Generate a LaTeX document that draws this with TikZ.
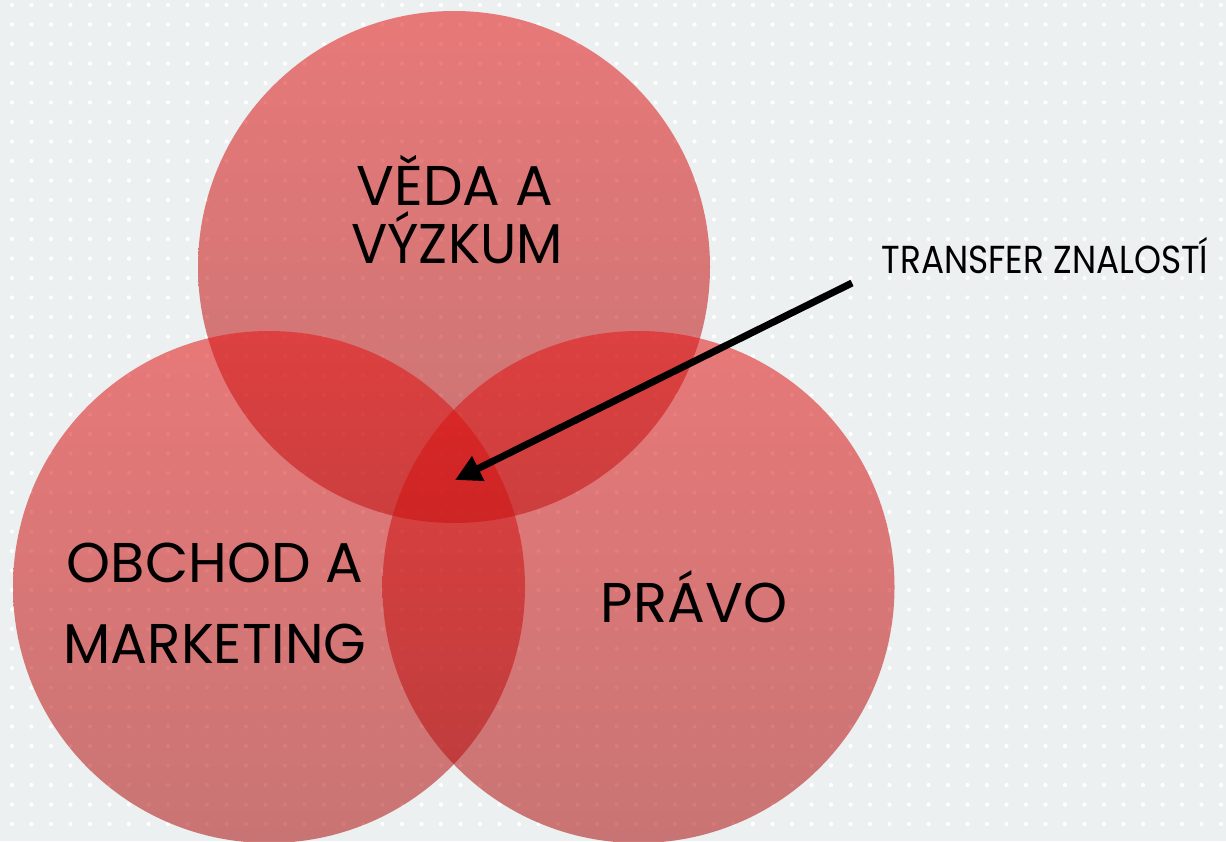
\documentclass[tikz,border=0pt]{standalone}
\usepackage{fontspec}
\setmainfont{Poppins}
\usetikzlibrary{arrows.meta}
\definecolor{bg}{RGB}{236,240,240}
\definecolor{ctop}{RGB}{228,20,20}
\definecolor{cbot}{RGB}{172,12,12}
\begin{document}
\begin{tikzpicture}[x=1pt,y=-1pt,
  venn/.style={circle, minimum size=512pt, inner sep=0pt, top color=ctop, bottom color=cbot, fill opacity=0.54, draw=none},
  bigtext/.style={font=\fontsize{56}{60}\selectfont, anchor=base, text=black, inner sep=0pt},
  smalltext/.style={font=\fontsize{39}{44}\selectfont, anchor=base, text=black, inner sep=0pt},
  pointer/.style={line width=7pt, draw=black, -{Triangle[length=26pt,width=26pt]}}]
\fill[bg] (0,0) rectangle (1226,841);
\useasboundingbox (0,0) rectangle (1226,841);
\foreach \i in {0,...,62} {
  \foreach \j in {0,...,43} {
    \fill[white] (12+19.5*\i, 5+19.5*\j) circle (2.1pt);
  }
}
\node[venn] (veda) at (454,267) {};
\node[venn] (obchod) at (269,587) {};
\node[venn] (pravo) at (638.5,587) {};
\node[bigtext] (veda1) at (455,205) {VĚDA A};
\node[bigtext] (veda2) at (457,263) {\scalebox{0.96}[1]{VÝZKUM}};
\node[bigtext] (obchod1) at (215,582) {OBCHOD A};
\node[bigtext] (obchod2) at (215,663) {\scalebox{0.98}[1]{MARKETING}};
\node[bigtext] (pravo1) at (694,622) {PRÁVO};
\node[smalltext] (transfer) at (1045,273) {\scalebox{0.88}[1]{TRANSFER ZNALOSTÍ}};
\coordinate (arrS) at (852,283);
\coordinate (arrE) at (455,480);
\draw[pointer] (arrS) -- (arrE);
\end{tikzpicture}
\end{document}
